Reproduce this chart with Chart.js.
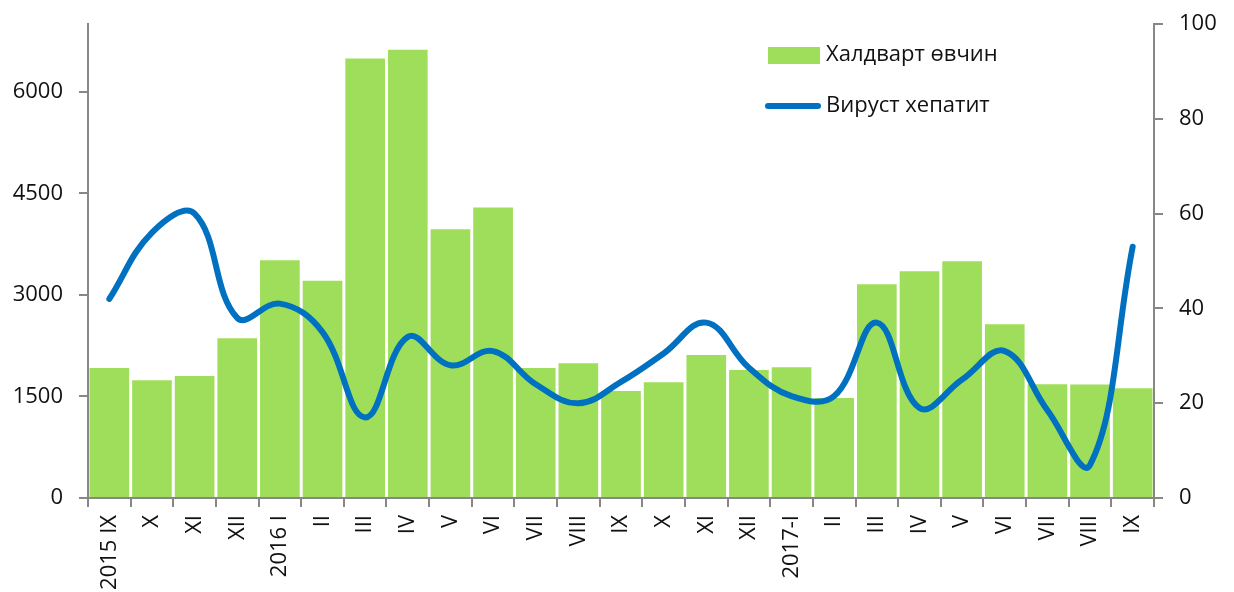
<!DOCTYPE html>
<html>
<head>
<meta charset="utf-8">
<script src="https://cdn.jsdelivr.net/npm/chart.js@4"></script>
<style>
  html, body { margin: 0; padding: 0; background: #fff; }
  #wrap { width: 1234px; height: 592px; }
</style>
</head>
<body>
<div id="wrap"><canvas id="chart" width="1234" height="592"></canvas></div>
<script>
const months = ['2015 IX', 'X', 'XI', 'XII', '2016 I', 'II', 'III', 'IV', 'V', 'VI', 'VII', 'VIII', 'IX',
    'X', 'XI', 'XII', '2017-I', 'II', 'III', 'IV', 'V', 'VI', 'VII', 'VIII', 'IX'];

const infections = [1920, 1740, 1800, 2360, 3510, 3210, 6490, 6620, 3970, 4290, 1920, 1990, 1580,
    1710, 2110, 1890, 1930, 1475, 3155, 3350, 3495, 2565, 1680, 1675, 1620];

const hepatitis = [42, 56, 60, 38, 41, 35, 17, 34, 28, 31, 24, 20, 24.5,
    30.5, 37, 27.5, 21.5, 21.5, 37, 19, 25, 31, 18.5, 7, 53];

const leftTicks = [0, 1500, 3000, 4500, 6000];
const rightTicks = [0, 20, 40, 60, 80, 100];

const green = '#9FDE5A';
const blue = '#0070C0';
const axisGray = '#878787';
const font = { family: 'Open Sans', size: 22 };

// legend sits inside the plot, top right, like the original
const insideLegend = {
    id: 'insideLegend',
    afterDraw: (chart) => {
        const ctx = chart.ctx;
        ctx.save();
        ctx.font = '22px "Open Sans"';
        ctx.textBaseline = 'middle';

        ctx.fillStyle = green;
        ctx.fillRect(768, 47, 52, 17);
        ctx.fillStyle = '#111';
        ctx.fillText(chart.data.datasets[1].label, 826, 55);

        ctx.strokeStyle = blue;
        ctx.lineWidth = 6;
        ctx.lineCap = 'round';
        ctx.beginPath();
        ctx.moveTo(768, 106);
        ctx.lineTo(818, 106);
        ctx.stroke();
        ctx.fillText(chart.data.datasets[0].label, 826, 106);
        ctx.restore();
    }
};

// fixed box sizes so the plot area lands where the original has it
const fitY = (width) => (scale) => {
    scale.width = width;
    scale.paddingTop = 0;
    scale.paddingBottom = 0;
};

new Chart(document.getElementById('chart'), {
    type: 'bar',
    data: {
        labels: months,
        datasets: [{
            type: 'line',
            label: 'Вируст хепатит',
            data: hepatitis,
            yAxisID: 'y1',
            borderColor: blue,
            borderWidth: 6,
            borderCapStyle: 'round',
            tension: 0.4,
            pointRadius: 0,
            order: 0
        }, {
            label: 'Халдварт өвчин',
            data: infections,
            yAxisID: 'y',
            backgroundColor: green,
            barPercentage: 0.93,
            categoryPercentage: 1,
            order: 1
        }]
    },
    options: {
        responsive: false,
        animation: false,
        layout: { padding: { top: 24, right: 0, left: 0, bottom: 0 } },
        plugins: {
            legend: { display: false },
            tooltip: { enabled: false }
        },
        scales: {
            x: {
                grid: { offset: true, drawOnChartArea: false, color: axisGray, tickLength: 9, lineWidth: 2 },
                border: { color: axisGray, width: 2 },
                ticks: { font: font, color: '#111', minRotation: 90, maxRotation: 90, autoSkip: false, padding: 8 },
                afterFit: (scale) => {
                    scale.height = 94;
                    scale.paddingLeft = 0;
                    scale.paddingRight = 0;
                }
            },
            y: {
                position: 'left',
                min: 0,
                max: 7000,
                afterBuildTicks: (scale) => { scale.ticks = leftTicks.map(v => ({ value: v })); },
                grid: { drawOnChartArea: false, color: axisGray, tickLength: 9, lineWidth: 2 },
                border: { color: axisGray, width: 2 },
                ticks: { font: font, color: '#111', padding: 16, callback: (v) => String(v) },
                afterFit: fitY(88)
            },
            y1: {
                position: 'right',
                min: 0,
                max: 100,
                afterBuildTicks: (scale) => { scale.ticks = rightTicks.map(v => ({ value: v })); },
                grid: { drawOnChartArea: false, color: axisGray, tickLength: 9, lineWidth: 2 },
                border: { color: axisGray, width: 2 },
                ticks: { font: font, color: '#111', padding: 16 },
                afterFit: fitY(80)
            }
        }
    },
    plugins: [insideLegend]
});
</script>
</body>
</html>
